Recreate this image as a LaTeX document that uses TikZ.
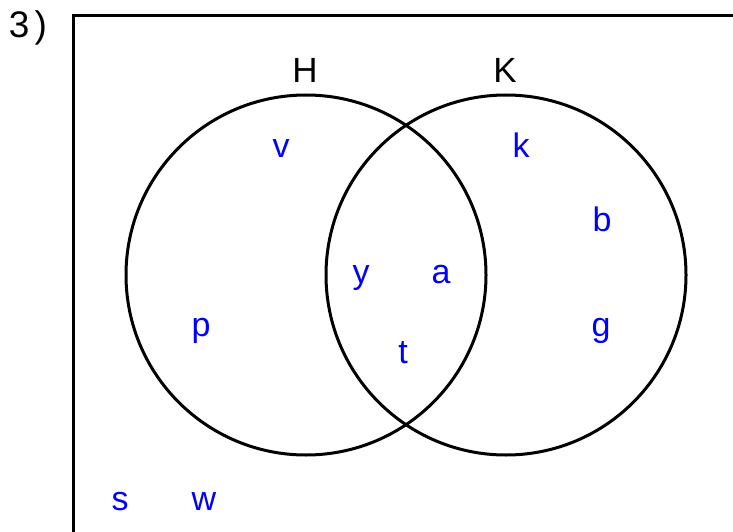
\documentclass[tikz,border=0pt]{standalone}
\usepackage{fontspec}
\setmainfont{Liberation Sans}
\begin{document}
\begin{tikzpicture}[x=1pt,y=1pt,
  lbl/.style={inner sep=0pt,anchor=base,font=\fontsize{35}{40}\selectfont,text=black},
  elem/.style={inner sep=0pt,anchor=base,font=\fontsize{34}{40}\selectfont,text=blue},
  edge/.style={line width=3pt,draw=black}]
\useasboundingbox (0,0) rectangle (733,531);
\begin{scope}
\clip (0,0) rectangle (733,531);
\draw[edge] (73,-20) |- (760,515);
\end{scope}
\draw[edge] (306,256) circle (180);
\draw[edge] (506,256) circle (180);
\node[lbl,font=\fontsize{37}{40}\selectfont] (n3) at (28,493) {3\kern0.14em)};
\node[lbl] (H) at (305,448) {H};
\node[lbl] (K) at (505,448) {K};
\node[elem] (v) at (281,373) {v};
\node[elem] (k) at (521,373) {k};
\node[elem] (b) at (602,300) {b};
\node[elem] (y) at (361,248) {y};
\node[elem] (a) at (441,248) {a};
\node[elem] (p) at (201,195) {p};
\node[elem] (g) at (601,195) {g};
\node[elem] (t) at (403,168) {t};
\node[elem] (s) at (120,21) {s};
\node[elem] (w) at (204,21) {w};
\end{tikzpicture}
\end{document}
